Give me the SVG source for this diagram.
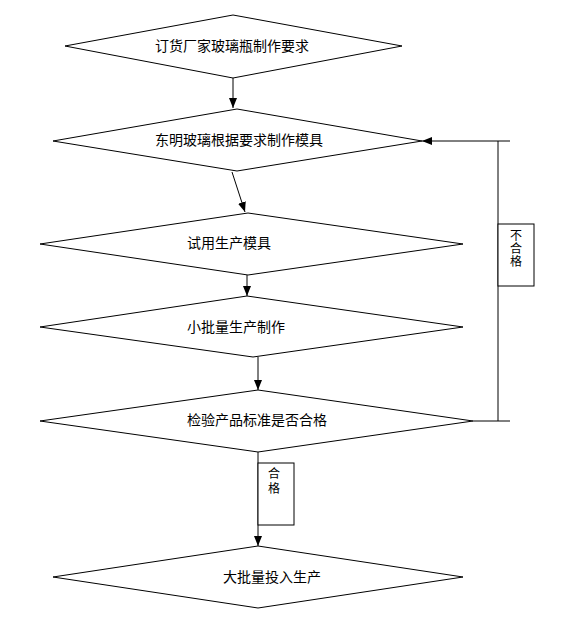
<svg xmlns="http://www.w3.org/2000/svg" width="572" height="620" viewBox="0 0 572 620">
<style>
.shape{fill:#fff;stroke:#000;stroke-width:1}
.conn{fill:none;stroke:#000;stroke-width:1}
.t{font-family:"Noto Sans CJK SC","Liberation Sans",sans-serif;font-size:14px;fill:#000}
.s{font-family:"Noto Sans CJK SC","Liberation Sans",sans-serif;font-size:12px;fill:#000;writing-mode:vertical-rl}
</style>
<defs>
<marker id="arr" markerUnits="userSpaceOnUse" markerWidth="10" markerHeight="10" viewBox="0 0 10 10" refX="10" refY="5" orient="auto">
<path d="M0,1 L10,5 L0,9 Z" fill="#000"/>
</marker>
</defs>
<rect width="572" height="620" fill="#fff"/>
<g id="n1"><polygon class="shape" points="233,15 402,46 233,78 65,46"/><text class="t" x="155" y="51">订货厂家玻璃瓶制作要求</text></g>
<g id="n2"><polygon class="shape" points="237,109 422,141 237,171 53,141"/><text class="t" x="155" y="145">东明玻璃根据要求制作模具</text></g>
<g id="n3"><polygon class="shape" points="248,213 463,244 248,275 40,244"/><text class="t" x="187" y="248">试用生产模具</text></g>
<g id="n4"><polygon class="shape" points="247,296 463,327 253,357 40,327"/><text class="t" x="187" y="332">小批量生产制作</text></g>
<g id="n5"><polygon class="shape" points="258,390 473,421 258,452 40,421"/><text class="t" x="187" y="425">检验产品标准是否合格</text></g>
<g id="n6"><polygon class="shape" points="258,546 463,577 258,608 53,577"/><text class="t" x="223" y="582">大批量投入生产</text></g>
<g id="connectors">
<line class="conn" x1="233" y1="78" x2="233" y2="108" marker-end="url(#arr)"/>
<line class="conn" x1="232" y1="172" x2="245" y2="212" marker-end="url(#arr)"/>
<line class="conn" x1="247" y1="275" x2="247" y2="296" marker-end="url(#arr)"/>
<line class="conn" x1="258" y1="357" x2="258" y2="390" marker-end="url(#arr)"/>
<line class="conn" x1="258" y1="452" x2="258" y2="546" marker-end="url(#arr)"/>
<line class="conn" x1="473" y1="421" x2="510" y2="421"/>
<line class="conn" x1="498" y1="421" x2="498" y2="141"/>
<line class="conn" x1="510" y1="141" x2="422" y2="141" marker-end="url(#arr)"/>
</g>
<g id="label-fail"><rect class="shape" x="498" y="224" width="36" height="62"/><text class="s" x="516" y="229" letter-spacing="1">不合格</text></g>
<g id="label-pass"><rect class="shape" x="258" y="463" width="36" height="62"/><text class="s" x="274" y="467" letter-spacing="3">合格</text></g>
</svg>
